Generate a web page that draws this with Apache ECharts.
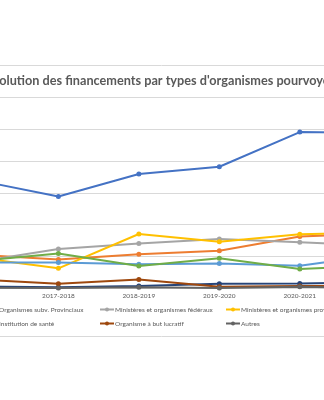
<!DOCTYPE html>
<html>
<head>
<meta charset="utf-8">
<script src="https://cdn.jsdelivr.net/npm/echarts@6/dist/echarts.min.js"></script>
<style>
html,body{margin:0;padding:0;width:324px;height:400px;overflow:hidden;background:#fff;position:relative;}
#c{position:absolute;left:-120px;top:0;width:564px;height:400px;}
</style>
</head>
<body>
<div id="c"></div>
<script>
// Data
const categories = ['2016-2017','2017-2018','2018-2019','2019-2020','2020-2021','2021-2022'];
const seriesNames = [
  'Organismes subv. Fédéraux',
  'Organismes subv. Provinciaux',
  'Ministères et organismes fédéraux',
  'Ministères et organismes provinciaux',
  'Ministères et organismes municipaux',
  "Établissements d'enseignement",
  'Institution de santé',
  'Organisme à but lucratif',
  'Autres'
];
const orgSubvFed   = [3.39, 2.88, 3.59, 3.82, 4.91, 4.88];
const orgSubvProv  = [1.05, 0.90, 1.06, 1.17, 1.62, 1.72];
const minFed       = [0.83, 1.23, 1.40, 1.54, 1.44, 1.33];
const minProv      = [0.95, 0.62, 1.70, 1.46, 1.69, 1.75];
const minMun       = [0.80, 0.80, 0.75, 0.77, 0.70, 1.05];
const enseignement = [0.85, 1.09, 0.69, 0.94, 0.60, 0.71];
const sante        = [0.05, 0.02, 0.06, 0.13, 0.14, 0.18];
const butLucratif  = [0.27, 0.13, 0.27, 0.04, 0.06, 0.06];
const autres       = [0.01, 0.00, 0.02, 0.00, 0.04, 0.00];
const titleText = "Évolution des financements par types d'organismes pourvoyeurs";

const seriesData = [orgSubvFed, orgSubvProv, minFed, minProv, minMun, enseignement, sante, butLucratif, autres];
const colors = ['#4472C4','#ED7D31','#A5A5A5','#FFC000','#5B9BD5','#70AD47','#264478','#9E480E','#636363'];

// legend positions (container px): [left, top]
const OFF = 120;
const legendPos = [
  [OFF-135, 306], [OFF-17, 306], [OFF+99, 306], [OFF+225, 306], [OFF+345, 306],
  [OFF-135, 320], [OFF-17, 320], [OFF+99, 320], [OFF+225, 320]
];

const chart = echarts.init(document.getElementById('c'), null, {renderer:'canvas'});
const txt = '#595959';
const font = 'Lato, "Open Sans", sans-serif';

const option = {
  animation: false,
  color: colors,
  textStyle: {fontFamily: font},
  title: {
    text: titleText,
    left: OFF - 14.3,
    top: 74,
    padding: 0,
    textStyle: {fontFamily: font, fontSize: 12.7, fontWeight: 'bold', color: txt}
  },
  graphic: [{
    type: 'rect',
    shape: {x: 0.5, y: 65.5, width: 562, height: 271},
    style: {fill: 'none', stroke: '#d9d9d9', lineWidth: 1},
    silent: true, z: -10
  }],
  legend: seriesNames.map((n, i) => ({
    data: [n],
    left: legendPos[i][0],
    top: legendPos[i][1],
    padding: 0,
    itemWidth: 14,
    itemHeight: 5,
    itemGap: 0,
    selectedMode: false,
    textStyle: {fontFamily: font, fontSize: 6.5, color: txt, padding: [0,0,0,-4]}
  })),
  grid: {left: 57.7, right: 23.5, top: 97.5, bottom: 112, containLabel: false},
  xAxis: {
    type: 'category',
    data: categories,
    boundaryGap: true,
    axisLine: {show: true, lineStyle: {color: '#d9d9d9', width: 1}},
    axisTick: {show: false},
    axisLabel: {fontFamily: font, fontSize: 6.5, color: txt, margin: 4},
    splitLine: {show: false}
  },
  yAxis: {
    type: 'value',
    min: 0, max: 6, interval: 1,
    axisLine: {show: false},
    axisTick: {show: false},
    axisLabel: {show: false},
    splitLine: {show: true, lineStyle: {color: '#d9d9d9', width: 1}}
  },
  series: seriesNames.map((n, i) => ({
    name: n,
    type: 'line',
    data: seriesData[i],
    symbol: 'circle',
    symbolSize: 5,
    lineStyle: {width: 2, color: colors[i]},
    itemStyle: {color: colors[i]},
    z: 2 + i
  }))
};
chart.setOption(option);
</script>
</body>
</html>
